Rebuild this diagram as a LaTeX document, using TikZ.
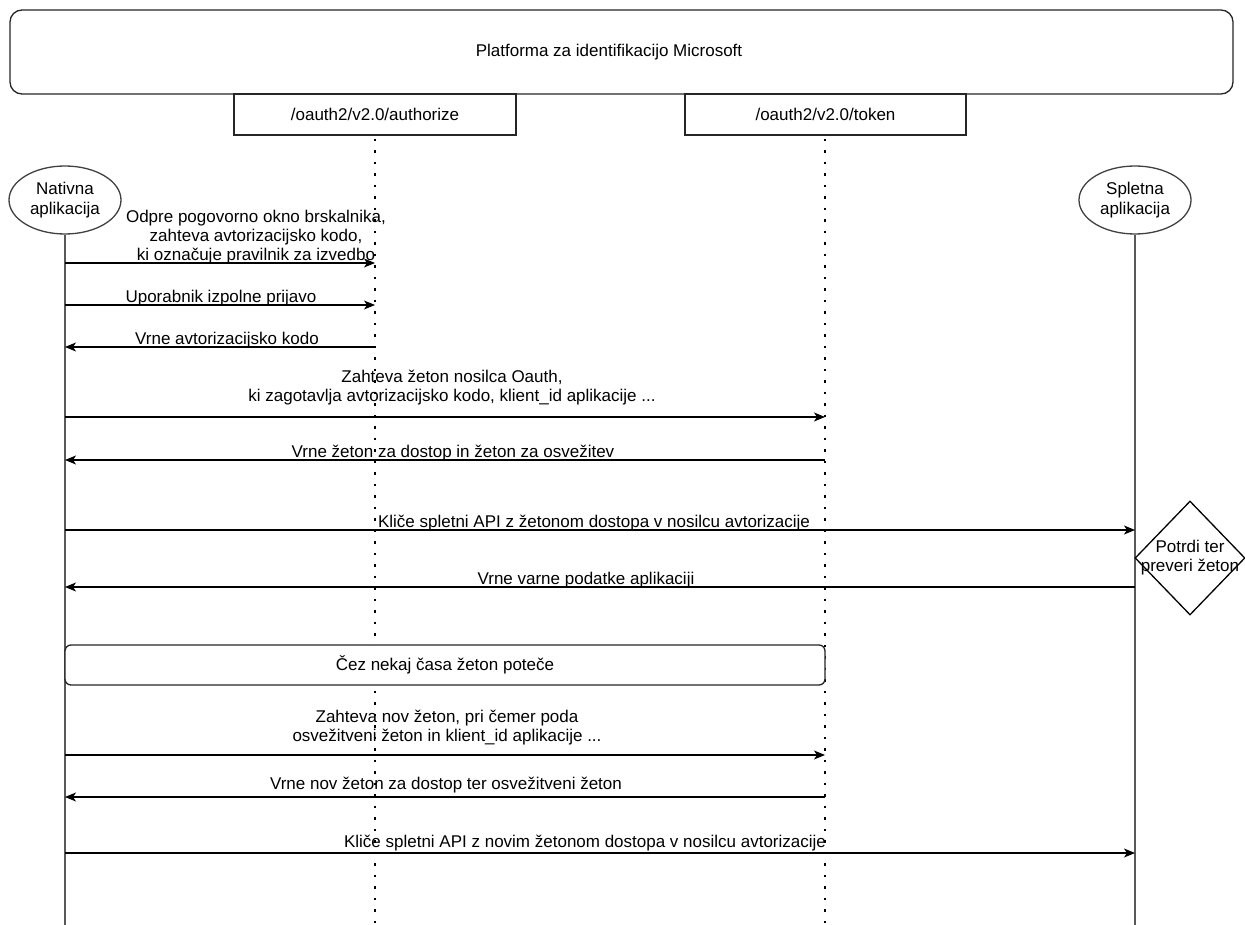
\documentclass[tikz,border=0pt]{standalone}
\usepackage{fontspec}
\setmainfont{Liberation Sans}
\usetikzlibrary{shapes.geometric,arrows.meta}
\begin{document}
\begin{tikzpicture}[x=1pt,y=-1pt,
  font=\fontsize{17}{19}\selectfont,
  box/.style={draw=black!85, line width=1.3pt, fill=white, inner sep=0pt},
  actor/.style={ellipse, draw=black!75, line width=1.3pt, fill=white, inner sep=0pt,
    minimum width=112pt, minimum height=68pt, align=center, font=\fontsize{17}{20}\selectfont},
  msg/.style={draw=black, line width=1.3pt, -{Stealth[length=11pt,width=9pt,inset=3pt]}},
  lbl/.style={align=center, inner sep=0pt},
  life/.style={draw=black!65, line width=1.5pt},
  dotline/.style={draw=black, line width=2.5pt, dash pattern=on 2.5pt off 9pt}
]
\useasboundingbox (0,0) rectangle (1245,925);

% header boxes
\node[box, rounded corners=12pt, minimum width=1223pt, minimum height=84pt] (plat) at (621.5,52) {};
\node[lbl] (platl) at (609,52) {Platforma za identifikacijo Microsoft};
\node[box, minimum width=282pt, minimum height=41pt] (auth) at (375,114.5) {/oauth2/v2.0/authorize};
\node[box, minimum width=281pt, minimum height=41pt] (tok) at (825.5,114.5) {/oauth2/v2.0/token};

% actors
\node[actor] (nat) at (65,200) {Nativna\\aplikacija};
\node[actor] (spl) at (1135,200) {Spletna\\aplikacija};

% lifeline ends
\coordinate (natend) at (65,925);
\coordinate (splend) at (1135,925);
\coordinate (authend) at (375,925);
\coordinate (tokend) at (825,925);

\draw[life] (nat.south) -- (natend);
\draw[life] (spl.south) -- (splend);
\draw[dotline] ([yshift=-3pt]auth.south) -- (authend);
\draw[dotline] ([yshift=-3pt]auth.south -| tokend) -- (tokend);

% message levels
\coordinate (m1) at (0,263);
\coordinate (m2) at (0,305);
\coordinate (m3) at (0,347);
\coordinate (m4) at (0,417);
\coordinate (m5) at (0,460);
\coordinate (m6) at (0,530);
\coordinate (m7) at (0,587);
\coordinate (m8) at (0,755);
\coordinate (m9) at (0,797);
\coordinate (m10) at (0,853);

% labels
\node[lbl] (l1) at (256,237) {Odpre pogovorno okno brskalnika,\\zahteva avtorizacijsko kodo,\\ki označuje pravilnik za izvedbo};
\node[lbl] (l2) at (221,298) {Uporabnik izpolne prijavo};
\node[lbl] (l3) at (227,340) {Vrne avtorizacijsko kodo};
\node[lbl] (l4) at (452,388) {Zahteva žeton nosilca Oauth,\\ki zagotavlja avtorizacijsko kodo, klient\_id aplikacije ...};
\node[lbl] (l5) at (453,453) {Vrne žeton za dostop in žeton za osvežitev};
\node[lbl] (l6) at (594,523) {Kliče spletni API z žetonom dostopa v nosilcu avtorizacije};
\node[lbl] (l7) at (586,580) {Vrne varne podatke aplikaciji};
\node[lbl] (l8) at (447,728) {Zahteva nov žeton, pri čemer poda\\osvežitveni žeton in klient\_id aplikacije ...};
\node[lbl] (l9) at (446,785) {Vrne nov žeton za dostop ter osvežitveni žeton};
\node[lbl] (l10) at (585,843) {Kliče spletni API z novim žetonom dostopa v nosilcu avtorizacije};

% messages
\draw[msg] (nat |- m1) -- (auth |- m1);
\draw[msg] (nat |- m2) -- (auth |- m2);
\draw[msg] (auth |- m3) -- (nat |- m3);
\draw[msg] (nat |- m4) -- (tokend |- m4);
\draw[msg] (tokend |- m5) -- (nat |- m5);
\draw[msg] (nat |- m6) -- (spl |- m6);
\draw[msg] (spl |- m7) -- (nat |- m7);
\draw[msg] (nat |- m8) -- (tokend |- m8);
\draw[msg] (tokend |- m9) -- (nat |- m9);
\draw[msg] (nat |- m10) -- (spl |- m10);

% expiry note
\node[box, rounded corners=6pt, minimum width=760pt, minimum height=40pt] (exp) at (445,665) {Čez nekaj časa žeton poteče};

% check diamond
\node[diamond, draw=black, line width=1.3pt, fill=white, inner sep=0pt,
  minimum width=110pt, minimum height=114pt,
  label={[align=center, inner sep=0pt]center:Potrdi ter\\preveri žeton}] (chk) at (1190,558) {};
\end{tikzpicture}
\end{document}
